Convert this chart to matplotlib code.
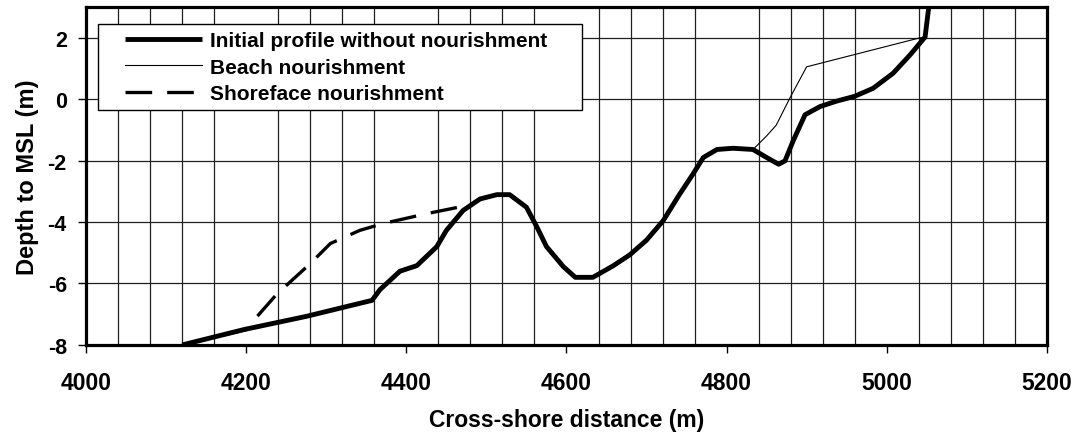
import matplotlib
matplotlib.use("Agg")
import matplotlib.pyplot as plt
from matplotlib.lines import Line2D
from matplotlib.legend_handler import HandlerLine2D
from matplotlib.ticker import MultipleLocator

plt.rcParams['font.family'] = ['Liberation Sans', 'DejaVu Sans']
plt.rcParams['font.weight'] = 'bold'
plt.rcParams['axes.unicode_minus'] = False

# initial profile
x_init = [4120, 4197, 4275, 4357, 4367, 4392, 4413, 4438, 4450, 4471, 4492, 4513,
          4529, 4550, 4563, 4575, 4596, 4611, 4633, 4658, 4679, 4700, 4721, 4740,
          4758, 4771, 4788, 4808, 4833, 4850, 4865, 4873, 4883, 4898, 4917, 4937,
          4960, 4983, 5008, 5029, 5048, 5055]
y_init = [-8.0, -7.5, -7.07, -6.55, -6.2, -5.6, -5.42, -4.8, -4.27, -3.62, -3.25, -3.11,
          -3.11, -3.52, -4.16, -4.8, -5.45, -5.8, -5.8, -5.43, -5.07, -4.59, -3.95, -3.15,
          -2.44, -1.9, -1.64, -1.6, -1.64, -1.9, -2.12, -2.01, -1.37, -0.51, -0.24, -0.07,
          0.09, 0.35, 0.84, 1.43, 2.02, 3.5]

# beach nourishment, where it leaves the initial profile
x_beach = [4833, 4850, 4862, 4879, 4900, 5041, 5048]
y_beach = [-1.64, -1.2, -0.85, 0.03, 1.05, 1.99, 2.02]

# shoreface nourishment
x_shore = [4120, 4160, 4200, 4217, 4238, 4280, 4305, 4342, 4371, 4425, 4478]
y_shore = [-8.0, -7.75, -7.5, -6.97, -6.35, -5.35, -4.7, -4.27, -4.05, -3.73, -3.45]

fig = plt.figure(figsize=(10.78, 4.39), dpi=100)
ax = fig.add_axes([0.08, 0.212, 0.891, 0.77])

ax.plot(x_init, y_init, color='black', lw=3.5, solid_capstyle='butt',
        label='Initial profile without nourishment', zorder=3)
ax.plot(x_beach, y_beach, color='black', lw=0.8,
        label='Beach nourishment', zorder=4)
ax.plot(x_shore, y_shore, color='black', lw=2.4, dashes=(8, 4.5),
        label='Shoreface nourishment', zorder=4)

ax.set_xlim(4000, 5200)
ax.set_ylim(-8, 3)
ax.xaxis.set_major_locator(MultipleLocator(200))
ax.xaxis.set_minor_locator(MultipleLocator(40))
ax.yaxis.set_major_locator(MultipleLocator(2))
ax.grid(axis='x', which='minor', color='#202020', lw=0.9)
ax.grid(axis='y', which='major', color='#202020', lw=0.9)
ax.tick_params(which='minor', length=0)
ax.tick_params(which='major', direction='out', length=6, width=1)
ax.tick_params(axis='x', pad=13, labelsize=16.5)
ax.tick_params(axis='y', pad=8, labelsize=15.5)
for s in ax.spines.values():
    s.set_linewidth(2.3)

ax.set_xlabel('Cross-shore distance (m)', fontsize=16.5, fontweight='bold', labelpad=10)
ax.set_ylabel('Depth to MSL (m)', fontsize=17, fontweight='bold', labelpad=6)

leg = ax.legend(loc='upper left', bbox_to_anchor=(0.0125, 0.689, 0.504, 0.261),
                mode='expand', fontsize=15, frameon=True, fancybox=False,
                edgecolor='black', framealpha=1, borderpad=0.35, labelspacing=0.36,
                handlelength=5.6, handletextpad=-0.6, numpoints=2, borderaxespad=0,
                handler_map={Line2D: HandlerLine2D(marker_pad=0.95)})
leg.get_frame().set_linewidth(1.0)
leg.set_zorder(10)

fig.savefig('out.png', dpi=100)
